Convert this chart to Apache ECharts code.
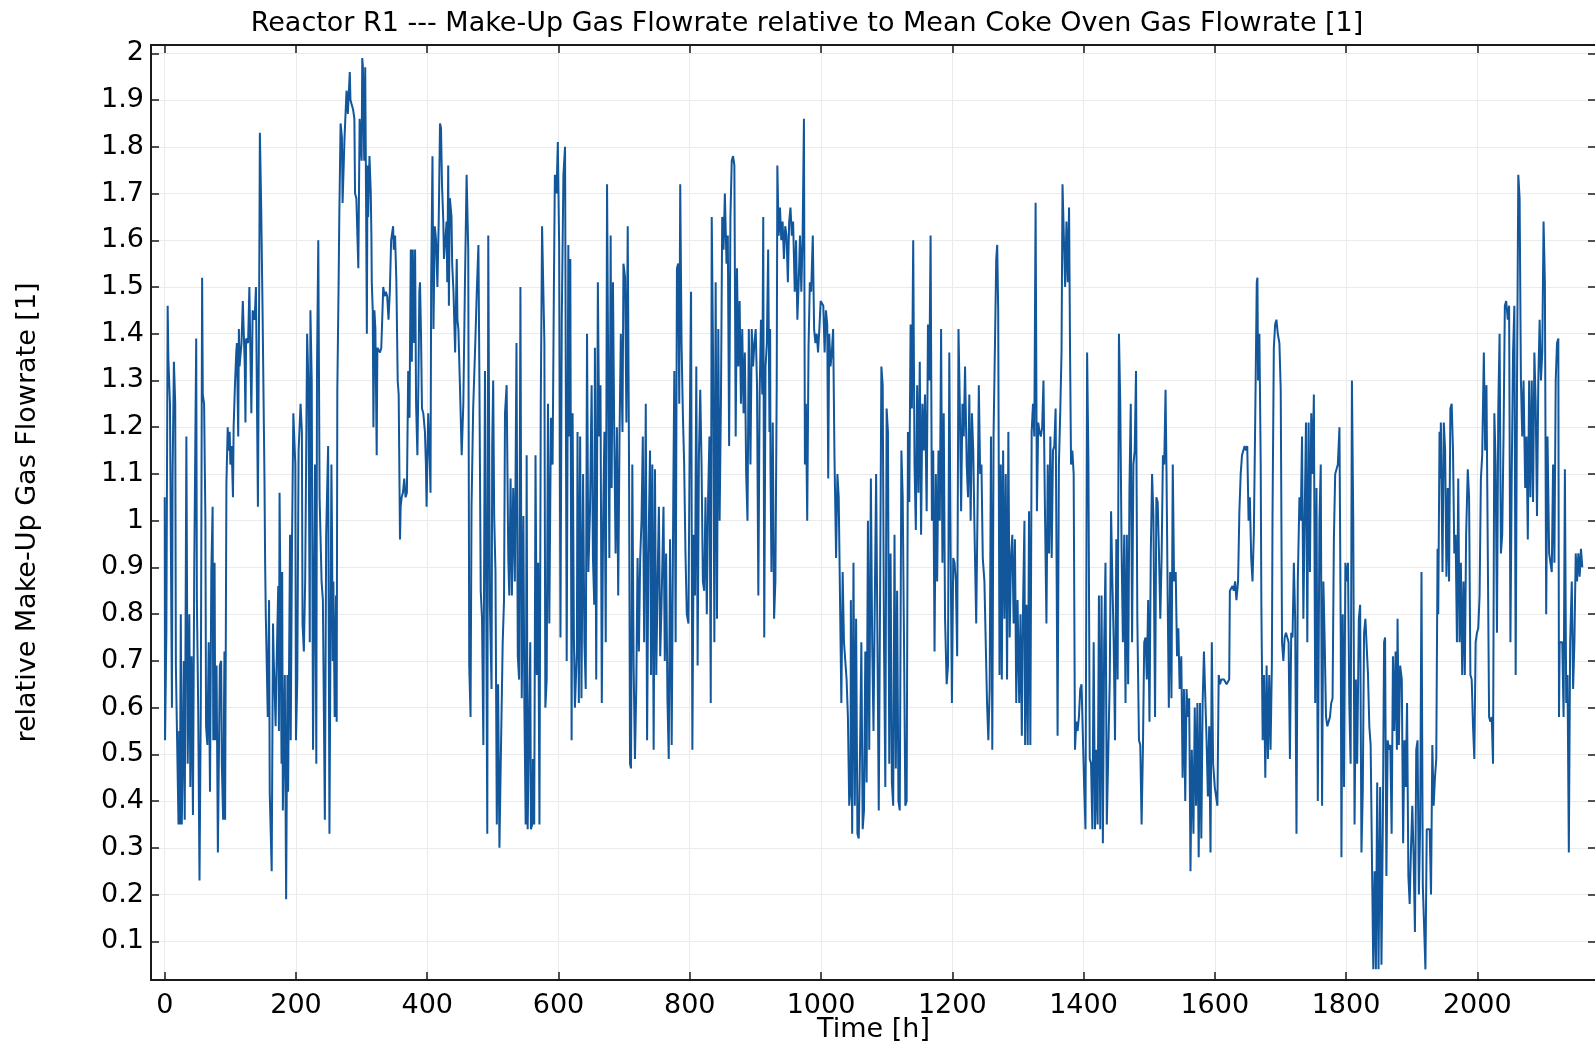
<!DOCTYPE html>
<html><head><meta charset="utf-8">
<script src="https://cdn.jsdelivr.net/npm/echarts@6/dist/echarts.min.js"></script>
<style>html,body{margin:0;padding:0;background:#fff;overflow:hidden}#c{width:1595px;height:1044px}</style>
</head><body><div id="c"></div>
<script>
const chartTitle = 'Reactor R1 --- Make-Up Gas Flowrate relative to Mean Coke Oven Gas Flowrate [1]';
const xAxisName = 'Time [h]';
const yAxisName = 'relative Make-Up Gas Flowrate [1]';
const xRange = [-20.9, 2180.9];
const yRange = [0.0172, 2.0178];
const xTickStep = 200;
const yTickStep = 0.1;

// [time h, relative flow]
const seg1 = [[0,1.05],[0.5,0.53],[2.5,0.76],[4.5,1.46],[5.5,1.35],[8,1.25],[11,0.6],[12,1.1],[14,1.34],[16,1.25],[17,0.69],[19,0.52],[21,0.35],[22,0.55],[23,0.35],[24.5,0.8],[26,0.35],[28,0.55],[29,0.7],[30.5,0.36],[33,1.18],[34,0.85],[35,0.48],[37.5,0.8],[39,0.43],[41,0.71],[43,0.37],[45,0.9],[48,1.39],[49,0.83],[51,0.6],[53,0.23],[55,0.61],[57,1.52],[58,1.27],[60,1.25],[62,1.0],[63,0.56],[65,0.52],[67,0.74],[69,0.42],[71,0.89],[73,1.03],[74,0.53],[76,0.91],[77,0.53],[79,0.69],[81,0.29],[83,0.29],[84,0.69],[86,0.7],[87,0.48],[89,0.36],[91,0.72],[92,0.36],[94,1.08],[96,1.2],[97,1.15],[99,1.19],[100,1.12],[102,1.16],[104,1.05],[105,1.2],[107,1.29],[109,1.36],[110,1.38],[112,1.18],[113,1.41],[114,1.33],[117,1.38],[119,1.47],[122,1.33],[123,1.21],[124,1.39],[127,1.38],[129,1.5],[132,1.23],[134,1.45],[137,1.43],[139,1.5],[142,1.03],[144,1.51],[145,1.83],[147,1.67],[149,1.46],[152,1.09],[153,0.91],[154,0.8],[157,0.58],[159,0.83],[160,0.42],[163,0.25],[165,0.78],[166,0.71],[168,0.61],[169,0.56],[170,0.66],[173,0.86],[174,0.55],[175,1.06],[176,0.89],[178,0.48],[179,0.89],[180,0.38],[183,0.67],[185,0.19],[187,0.67],[188,0.42],[191,0.97],[192,0.53],[194,0.96],[196,1.23],[199,1.12],[200,0.53],[202,0.66],[204,1.15],[207,1.25],[209,1.19],[210,0.78],[212,0.72],[214,0.87],[217,1.4],[219,1.29],[221,0.74],[222,1.45],[224,1.3],[226,0.51],[229,1.12],[231,0.48],[232,1.32],[234,1.6],[236,1.05],[239,0.87],[241,0.83],[244,0.36],[246,0.97],[249,1.16],[251,0.33],[254,1.12],[255,0.96],[256,0.7],[257,0.87],[259,0.58],[261,0.84],[262,0.57],[263,1.28],[265,1.51],[266,1.65],[268,1.85],[270,1.82],[271,1.68],[274,1.82],[277,1.92],[278,1.91],[279,1.87],[282,1.96],[283,1.9],[285,1.9],[287,1.88],[289,1.86],[290,1.7],[292,1.69],[295,1.54],[297,1.86],[300,1.77],[301,1.99]];
const seg2 = [[302,1.97],[304,1.77],[305.5,1.97],[307,1.64],[308,1.4],[309,1.76],[310,1.65],[312,1.78],[314,1.7],[315,1.6],[315.5,1.51],[317,1.45],[318,1.2],[319.5,1.45],[321,1.41],[323,1.14],[324,1.37],[326,1.37],[328,1.36],[330,1.37],[332,1.37],[333,1.5],[335,1.48],[337,1.49],[339,1.48],[341,1.43],[343,1.49],[345,1.6],[348,1.63],[349,1.58],[351,1.61],[353,1.51],[355,1.3],[356.5,1.27],[358.5,0.96],[359.5,1.03],[361,1.05],[363,1.06],[365,1.09],[367,1.05],[369,1.06],[371,1.32],[373,1.22],[374,1.41],[375,1.58],[376.5,1.34],[378,1.58],[380,1.38],[381.5,1.58],[383,1.25],[385,1.14],[386.5,1.29],[388,1.49],[389,1.51],[390.5,1.4],[392,1.24],[394,1.23],[396.5,1.19],[398,1.12],[399,1.03],[401.5,1.23],[404,1.12],[405,1.06],[406,1.51],[408,1.78],[409.5,1.41],[411.5,1.63],[413.5,1.6],[415.5,1.5],[417.5,1.64],[419.5,1.85],[421,1.84],[422.5,1.72],[424.5,1.64],[425.5,1.56],[427,1.59],[429.5,1.64],[430.5,1.51],[432,1.76],[433,1.46],[434.5,1.69],[437,1.65],[438,1.55],[440,1.49],[442.5,1.36],[445,1.56],[446,1.43],[447.5,1.41],[450,1.28],[452.5,1.14],[455,1.25],[457.5,1.51],[460,1.74],[462.5,1.58],[464,0.69],[466,0.58],[467.5,1.03],[470,1.24],[473,1.37],[475.5,1.49],[478,1.59],[479.5,1.3],[481.5,0.85],[483.5,0.79],[485.5,0.52],[488,1.32],[489.5,0.94],[491.5,0.33],[493,1.61],[495.5,0.82],[498,0.64],[499,1.16],[500.5,1.3],[502,1.01],[504,0.89],[506,0.35],[508,0.65],[510,0.3],[512,0.48],[515,0.74],[517,0.83],[518.5,1.23],[521,1.29],[523.5,0.92],[525,0.84],[527,1.09],[529,0.84],[531,1.07],[533.5,0.87],[536,1.38],[538,0.71],[540,0.66],[542,1.5],[544,0.62],[546.5,1.01],[548,0.61],[550,0.35],[551.5,1.14],[553,0.34],[555,0.34],[557,0.74],[558,0.34],[560,0.35],[561,0.49],[563,0.35],[565,1.14],[567,0.67],[569,0.91],[571,0.35],[573,1.25],[575,1.63],[577,1.63],[578.5,1.38],[580,0.6],[582,0.66],[584,1.25],[586,0.78],[588.5,1.22],[591,1.12],[593,1.5],[594.5,1.74],[597,1.7],[599,1.81],[601,1.59],[603,0.75],[605,1.43],[607.5,1.74]];
const seg3 = [[610,1.8],[612.5,0.7],[615,1.59],[616.5,1.18],[618,1.56],[620,0.53],[621.5,1.23],[623.5,0.75],[625,0.6],[628,0.72],[629,1.19],[631,0.61],[633,1.18],[635,0.62],[637.5,1.1],[639.5,0.74],[641.5,0.64],[643.5,1.4],[645.5,0.89],[648,1.02],[650.5,1.29],[652.5,0.92],[654.5,0.82],[655.5,1.37],[657.5,0.66],[660,1.51],[662,1.18],[664,1.29],[666,0.61],[668,1.0],[670,1.19],[672,0.74],[674,1.72],[676,1.72],[677.5,0.92],[679.5,1.61],[681,1.07],[683,1.51],[685,1.18],[687,0.93],[689,1.2],[691,0.84],[693,1.18],[695,1.4],[697.5,1.19],[699,1.55],[701.5,1.52],[703.5,1.21],[705.5,1.63],[707.5,1.12],[709,0.48],[710.5,0.47],[712.5,1.12],[714.5,0.69],[716.5,0.49],[718.5,0.64],[720.5,0.92],[722.5,0.72],[724.5,0.92],[726.5,1.0],[728.5,1.18],[730.5,0.74],[733,1.25],[735,0.53],[737,0.93],[739.5,1.15],[741,0.67],[743,1.12],[745,0.51],[747,1.11],[749,0.67],[751,0.87],[753,1.03],[755,0.71],[757,0.82],[760,1.03],[762,0.7],[764,0.93],[766,0.62],[768,0.49],[770,0.96],[772.5,0.52],[775,1.07],[776.5,1.32],[778.5,0.74],[780.5,1.54],[782.5,1.55],[784,1.25],[785.5,1.72],[787.5,1.38],[789.5,1.23],[791.5,1.12],[793.5,0.93],[795.5,0.8],[798,0.78],[800,1.19],[802,1.49],[804,0.51],[806,0.97],[808,0.84],[810,1.33],[812,0.69],[814,1.14],[816,1.28],[818,1.12],[820,0.87],[822,0.85],[824,1.05],[826,0.8],[828,1.05],[830,1.18],[832,0.61],[833.5,1.65],[835.5,1.36],[837.5,0.74],[839.5,1.51],[841.5,0.79],[843.5,1.41],[845.5,1.0],[847.5,1.25],[849.5,1.65],[851.5,1.58],[853.5,1.7],[856,1.55],[858,1.61],[860,1.16],[862,1.65],[864,1.77],[866,1.78],[868,1.76],[870,1.18],[872,1.54],[874,1.33],[876,1.47],[878,1.25],[880,1.41],[882,1.23],[884,1.36],[886,1.1],[888,1.0],[890,1.41],[892.5,1.12],[894.5,1.41],[896.5,1.33],[898.5,1.38],[900.5,1.41],[902.5,1.29],[904.5,0.84],[906.5,1.27],[908.5,1.43],[910.5,1.27],[912,1.65],[913.5,0.75],[915.5,1.33],[917.5,1.38],[919.5,1.58],[921.5,1.19]];
const seg4 = [[922.5,1.41],[923,1.12],[924.5,0.89],[926.5,1.21],[928.5,0.79],[930.5,0.87],[932.5,1.28],[933.5,1.76],[935.5,1.61],[937.5,1.67],[939.5,1.6],[941.5,1.64],[943.5,1.56],[945.5,1.63],[947.5,1.61],[949.5,1.51],[951.5,1.64],[953.5,1.67],[955.5,1.61],[957.5,1.64],[960,1.49],[962,1.6],[964,1.43],[966,1.51],[968,1.61],[970,1.49],[972,1.61],[974,1.86],[975.5,1.12],[977,1.25],[979,1.0],[981,1.37],[983,1.51],[985,1.49],[987.5,1.61],[989.5,1.41],[991.5,1.38],[993.5,1.4],[995.5,1.36],[997.5,1.41],[999.5,1.47],[1001.5,1.47],[1003.5,1.46],[1005.5,1.36],[1007.5,1.45],[1009.5,1.42],[1011,1.09],[1012.5,1.4],[1014.5,1.33],[1016.5,1.36],[1018.5,1.41],[1020.5,1.14],[1023,0.92],[1025,1.1],[1027,1.05],[1029,0.83],[1031,0.61],[1033,0.89],[1035,0.74],[1037,0.74],[1039,0.66],[1041,0.58],[1043,0.39],[1045,0.43],[1045.5,0.83],[1047.5,0.33],[1049.5,0.91],[1051.5,0.39],[1053.5,0.79],[1055.5,0.33],[1057.5,0.32],[1059.5,0.51],[1061.5,0.74],[1063.5,0.34],[1065.5,0.38],[1067.5,0.72],[1069.5,0.44],[1071.5,1.0],[1073.5,0.51],[1076,1.09],[1078,0.74],[1080,0.55],[1082,0.83],[1084,1.1],[1086,0.74],[1088,0.38],[1090,0.83],[1092,1.33],[1094,1.29],[1096,0.74],[1098,0.43],[1100,1.24],[1102,1.19],[1104,0.48],[1106,0.93],[1108,0.44],[1110,0.39],[1112,0.97],[1114,0.47],[1116,0.85],[1118,0.4],[1120,0.38],[1122.5,1.15],[1124.5,1.05],[1126.5,0.74],[1128.5,0.39],[1130.5,0.4],[1132.5,1.19],[1134.5,1.04],[1136.5,1.42],[1138.5,1.24],[1140.5,1.6],[1142.5,1.12],[1144.5,0.98],[1146.5,1.29],[1148.5,1.06],[1150.5,1.34],[1152.5,0.97],[1154.5,1.25],[1156.5,1.15],[1158.5,1.27],[1161,1.02],[1163,1.42],[1165,1.3],[1167,1.61],[1169,1.0],[1171,1.15],[1173,0.72],[1175,1.1],[1177,0.87],[1179,1.15],[1181,1.0],[1183,1.41],[1185,0.91],[1187,1.23],[1189,0.79],[1191.5,0.65],[1193.5,0.69],[1195.5,1.36],[1197.5,0.94],[1199.5,0.61],[1201.5,0.92],[1203.5,0.91],[1205.5,0.87],[1207.5,0.71],[1209.5,1.41],[1211.5,1.25],[1213.5,1.02],[1215.5,1.25],[1217.5,1.18],[1219.5,1.33],[1222,1.12],[1224,1.05],[1226,1.27],[1228,1.0],[1230,1.23],[1232,1.15],[1234,0.97]];
const seg5 = [[1236.5,0.78],[1238.5,1.02],[1240.5,1.29],[1242.5,1.1],[1244.5,1.12],[1246.5,0.92],[1249,0.87],[1251,0.87],[1253,0.61],[1255,0.53],[1257,0.64],[1259,1.18],[1261,0.51],[1263,1.19],[1265,1.37],[1267,1.56],[1268.5,1.59],[1270,1.45],[1272,0.67],[1274,1.12],[1275.5,0.66],[1277.5,1.15],[1279.5,0.79],[1281.5,1.1],[1283.5,0.66],[1285.5,1.19],[1287.5,0.75],[1289.5,0.92],[1291.5,0.97],[1293.5,0.78],[1295.5,0.96],[1297.5,0.61],[1299.5,0.83],[1302,0.61],[1304,0.8],[1306,0.54],[1308,0.83],[1310,1.0],[1311,0.52],[1313,0.82],[1315,0.52],[1317,1.02],[1319,0.52],[1321,1.19],[1323,1.25],[1325,1.18],[1327,1.68],[1329,1.02],[1331,1.21],[1333,1.19],[1335,1.18],[1337,1.2],[1339,1.3],[1341,1.05],[1343.5,0.78],[1345.5,1.12],[1347.5,0.93],[1349.5,1.18],[1351.5,0.92],[1353.5,1.15],[1355.5,1.16],[1357.5,1.24],[1359.5,0.78],[1360.5,0.54],[1362.5,1.12],[1364.5,1.23],[1366.5,1.36],[1368,1.72],[1370,1.72],[1372,1.5],[1374,1.64],[1376,1.51],[1378,1.67],[1379.5,1.36],[1381,1.12],[1383,1.15],[1385,1.1],[1387,0.51],[1389,0.57],[1391,0.55],[1393,0.58],[1395,0.64],[1397,0.65],[1399,0.65],[1401,0.43],[1403,0.34],[1405.5,1.36],[1407.5,1.12],[1409.5,0.49],[1411.5,0.48],[1413.5,0.34],[1415.5,0.74],[1417.5,0.34],[1419.5,0.51],[1421.5,0.35],[1423.5,0.84],[1425.5,0.34],[1427.5,0.84],[1429.5,0.31],[1431.5,0.74],[1433.5,0.91],[1435.5,0.35],[1437.5,0.35],[1440,0.66],[1442,1.02],[1444,0.87],[1446,0.74],[1448,0.53],[1450,0.96],[1452,0.66],[1454,1.4],[1456,1.25],[1458,0.94],[1460,0.74],[1462,0.97],[1464,0.61],[1466,0.97],[1468,0.65],[1470,1.07],[1472,1.25],[1474,0.74],[1476,1.12],[1478,1.15],[1480,1.32],[1482,0.79],[1484.5,0.53],[1486.5,0.52],[1488.5,0.35],[1490.5,0.51],[1492.5,0.74],[1494.5,0.75],[1496.5,0.66],[1498.5,0.83],[1500.5,0.57],[1502.5,0.93],[1504.5,1.1],[1506.5,1.01],[1509,0.58],[1511,1.05],[1513,1.04],[1515,0.93],[1517,0.79],[1519,0.92],[1521,1.14],[1523,1.12],[1525,1.28],[1526.5,1.1],[1528,0.87],[1530,0.6],[1532,0.89],[1534,0.62],[1536,1.12],[1538,0.87],[1540.5,0.89],[1542.5,0.71],[1544.5,0.77],[1546.5,0.64]];
const seg6 = [[1549,0.71],[1551,0.45],[1553,0.64],[1555,0.4],[1557,0.64],[1559,0.58],[1561,0.62],[1563,0.25],[1565,0.51],[1567.5,0.33],[1569.5,0.6],[1571.5,0.39],[1573.5,0.61],[1575.5,0.28],[1577.5,0.61],[1579.5,0.32],[1581.5,0.61],[1583.5,0.72],[1585.5,0.72],[1587.5,0.53],[1589.5,0.41],[1591.5,0.56],[1593.5,0.29],[1595.5,0.74],[1597.5,0.48],[1600,0.43],[1602,0.43],[1604,0.39],[1606,0.67],[1608,0.65],[1610,0.66],[1614,0.66],[1618,0.65],[1622,0.66],[1623,0.85],[1625,0.85],[1627,0.86],[1629,0.85],[1631,0.87],[1633,0.83],[1635.5,0.87],[1637.5,1.02],[1639.5,1.1],[1641.5,1.14],[1643.5,1.15],[1645.5,1.16],[1647.5,1.15],[1649.5,1.16],[1651.5,1.0],[1653.5,1.05],[1655.5,0.92],[1657.5,0.87],[1659.5,0.97],[1661.5,1.2],[1664,1.51],[1665,1.52],[1666,1.3],[1668,1.4],[1670,1.12],[1671,0.82],[1673,0.53],[1675,0.67],[1677,0.45],[1679,0.69],[1681,0.49],[1683,0.67],[1685,0.51],[1687,0.69],[1688,1.01],[1690,1.37],[1692,1.42],[1694,1.43],[1696,1.4],[1698.5,1.38],[1700.5,1.28],[1702.5,0.74],[1704.5,0.7],[1706.5,0.75],[1708.5,0.76],[1710.5,0.75],[1712.5,0.74],[1714.5,0.49],[1716.5,0.76],[1718.5,0.75],[1720.5,0.91],[1722.5,0.79],[1724.5,0.33],[1726.5,0.87],[1729,1.05],[1731,1.0],[1733,1.18],[1735,0.79],[1737,1.01],[1739,1.21],[1741,0.74],[1743,1.21],[1745,0.89],[1747,1.23],[1749,1.1],[1751,1.27],[1753,0.61],[1755,1.07],[1757,0.4],[1759.5,1.0],[1761.5,1.12],[1763.5,0.39],[1765.5,0.87],[1767.5,0.74],[1769.5,0.58],[1771.5,0.56],[1773.5,0.57],[1775.5,0.58],[1777.5,0.61],[1779.5,0.62],[1781.5,0.96],[1783.5,1.1],[1785.5,1.11],[1787.5,1.12],[1790,1.2],[1792,0.74],[1793,0.28],[1795,0.8],[1797,0.43],[1799,0.91],[1801,0.87],[1803,0.91],[1805,0.61],[1807,0.48],[1809,1.3],[1811,1.0],[1813,0.35],[1815,0.66],[1817,0.48],[1819.5,0.79],[1821.5,0.82],[1823.5,0.29],[1825.5,0.42],[1827.5,0.76],[1829.5,0.79],[1831.5,0.79],[1833.5,0.67],[1835.5,0.56],[1837.5,0.52],[1839.5,0.28],[1841.5,0.04],[1843.5,0.25],[1845.5,0.04],[1847.5,0.44],[1849.5,0.04],[1852,0.43],[1854,0.05],[1856,0.34],[1858,0.74]];
const seg7 = [[1859.5,0.75],[1860,0.61],[1861.5,0.24],[1863.5,0.53],[1865.5,0.51],[1867.5,0.52],[1869.5,0.33],[1871.5,0.71],[1873.5,0.55],[1875.5,0.72],[1877.5,0.51],[1878.5,0.79],[1880.5,0.52],[1882.5,0.69],[1885,0.66],[1887,0.31],[1889,0.53],[1891,0.43],[1893,0.61],[1895,0.24],[1897,0.18],[1899,0.3],[1901,0.39],[1903,0.28],[1905,0.12],[1907,0.51],[1909,0.53],[1911,0.2],[1913,0.35],[1915,0.89],[1917,0.22],[1919,0.22],[1921,0.04],[1923,0.34],[1925,0.34],[1927.5,0.34],[1929.5,0.2],[1931.5,0.52],[1933.5,0.39],[1935.5,0.45],[1937.5,0.49],[1939.5,0.94],[1940.5,0.8],[1942.5,1.19],[1943.5,1.09],[1944.5,1.21],[1947,0.89],[1949,1.21],[1951,1.15],[1953,0.88],[1955,1.07],[1957,0.87],[1959,1.24],[1961,1.25],[1963,1.15],[1965,0.93],[1967,0.97],[1969,0.74],[1971,1.09],[1973,0.74],[1975,0.91],[1977,0.67],[1979,0.87],[1981,0.67],[1983,0.97],[1985.5,1.11],[1987.5,1.05],[1989.5,0.67],[1991.5,0.66],[1993.5,0.56],[1995.5,0.49],[1997.5,0.74],[1999.5,0.76],[2001.5,0.77],[2003.5,0.84],[2005.5,1.09],[2007.5,1.14],[2010,1.36],[2012,1.15],[2014,1.29],[2016,1.29],[2018,0.58],[2020,0.57],[2022,0.58],[2024,0.48],[2026,1.23],[2028,1.12],[2030,0.76],[2032,1.24],[2034,1.4],[2036,0.93],[2038,0.97],[2040,1.18],[2042,1.46],[2044,1.47],[2046.5,1.43],[2048.5,1.46],[2050.5,0.74],[2052.5,1.1],[2054.5,1.36],[2056.5,1.46],[2058.5,0.67],[2060.5,1.28],[2062.5,1.74],[2064.5,1.69],[2066.5,1.3],[2068.5,1.18],[2070.5,1.3],[2073,1.07],[2075,1.18],[2077,0.96],[2079,1.3],[2081,1.05],[2083,1.3],[2085,1.04],[2087,1.36],[2089,1.25],[2091,1.01],[2093,1.3],[2095,1.43],[2097,1.3],[2099,1.36],[2101,1.64],[2103,1.51],[2105,0.8],[2107,1.18],[2109.5,0.93],[2111.5,0.91],[2113.5,0.89],[2115.5,1.12],[2117.5,0.91],[2119.5,1.3],[2121.5,1.38],[2123.5,1.39],[2124.5,0.58],[2125.5,0.74],[2127.5,0.74],[2129.5,0.74],[2131.5,0.58],[2133.5,1.11],[2135.5,0.61],[2137.5,0.67],[2139.5,0.29],[2141.5,0.74],[2144,0.87],[2146,0.64],[2148,0.74],[2150,0.93],[2152,0.87],[2154,0.93],[2156,0.88],[2158,0.94],[2160,0.9]];

const flowData = seg1.concat(seg2, seg3, seg4, seg5, seg6, seg7);

const FONT = 'DejaVu Sans';
const AXIS_COLOR = '#1a1a1a';
const GRID_COLOR = '#ebebeb';
const LINE_COLOR = '#12579b';

function onStep(v, step) {
  const r = v / step;
  return Math.abs(r - Math.round(r)) < 1e-6;
}
function makeX(pos, primary) {
  return {
    type: 'value', position: pos, min: xRange[0], max: xRange[1],
    minInterval: xTickStep, maxInterval: xTickStep, splitNumber: 11,
    name: primary ? xAxisName : '', nameLocation: 'middle', nameGap: 36, nameMoveOverlap: false,
    nameTextStyle: { fontFamily: FONT, fontSize: 27, color: '#000' },
    axisLine: { show: true, onZero: false, lineStyle: { color: AXIS_COLOR, width: 2 } },
    axisTick: { show: true, inside: true, length: 8, lineStyle: { color: AXIS_COLOR, width: 1.5 } },
    axisLabel: { show: primary, margin: 12, fontFamily: FONT, fontSize: 27, color: '#000',
      formatter: v => onStep(v, xTickStep) ? String(Math.round(v)) : '' },
    splitLine: { show: primary, lineStyle: { color: GRID_COLOR, width: 1 } }
  };
}
function makeY(pos, primary) {
  return {
    type: 'value', position: pos, min: yRange[0], max: yRange[1],
    minInterval: yTickStep, maxInterval: yTickStep, splitNumber: 20,
    name: primary ? yAxisName : '', nameLocation: 'middle', nameGap: 110, nameRotate: 90, nameMoveOverlap: false,
    nameTextStyle: { fontFamily: FONT, fontSize: 27, color: '#000' },
    axisLine: { show: true, onZero: false, lineStyle: { color: AXIS_COLOR, width: 2 } },
    axisTick: { show: true, inside: true, length: 8, lineStyle: { color: AXIS_COLOR, width: 1.5 } },
    axisLabel: { show: primary, margin: 7, fontFamily: FONT, fontSize: 27, color: '#000',
      formatter: v => onStep(v, yTickStep) ? String(Math.round(v * 10) / 10) : '' },
    splitLine: { show: primary, lineStyle: { color: GRID_COLOR, width: 1 } }
  };
}

const chart = echarts.init(document.getElementById('c'), null, { renderer: 'canvas' });
chart.setOption({
  animation: false,
  backgroundColor: '#ffffff',
  title: { text: chartTitle, left: 802, top: 5, textAlign: 'center',
    textStyle: { fontFamily: FONT, fontSize: 27, fontWeight: 'normal', color: '#000' } },
  grid: { left: 151, top: 45, width: 1445, height: 935, containLabel: false, outerBoundsMode: 'none' },
  xAxis: [makeX('bottom', true), makeX('top', false)],
  yAxis: [makeY('left', true), makeY('right', false)],
  series: [{
    type: 'line', xAxisIndex: 0, yAxisIndex: 0, data: flowData,
    showSymbol: false, symbol: 'none', clip: true, z: 3,
    lineStyle: { color: LINE_COLOR, width: 2 }
  }]
});
</script>
</body></html>
